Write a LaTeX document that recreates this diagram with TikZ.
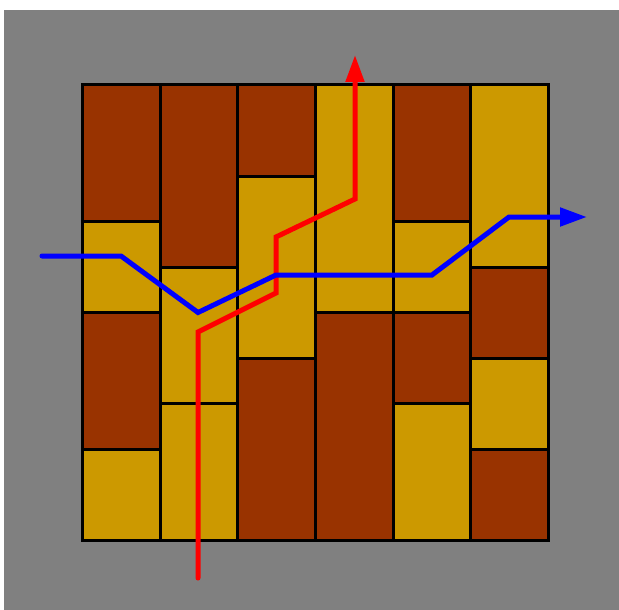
\documentclass[tikz,border=0pt]{standalone}
\usetikzlibrary{arrows.meta}
\definecolor{brick}{HTML}{993300}
\definecolor{ochre}{HTML}{CC9900}
\definecolor{bg}{HTML}{808080}
\begin{document}
\begin{tikzpicture}[x=1pt,y=-1pt,
  cell/.style={draw=black,line width=3pt},
  br/.style={cell,fill=brick},
  yl/.style={cell,fill=ochre},
  route/.style={line width=5pt,line cap=round,line join=miter,-{Triangle[length=27pt,width=18pt]}}]
\useasboundingbox (0,0) rectangle (619,610);
\fill[white] (0,0) rectangle (619,610);
\fill[bg] (4,10) rectangle (619,610);
% columns x: 82,160,237,315,393,470,548 ; rows y = 85 + k*45.5
\def\R#1{\fpeval{85+45.5*#1}}
% column 1
\draw[br] (82,85) rectangle (160,221.5);
\draw[yl] (82,221.5) rectangle (160,312.5);
\draw[br] (82,312.5) rectangle (160,449);
\draw[yl] (82,449) rectangle (160,540);
% column 2
\draw[br] (160,85) rectangle (237,267);
\draw[yl] (160,267) rectangle (237,403.5);
\draw[yl] (160,403.5) rectangle (237,540);
% column 3
\draw[br] (237,85) rectangle (315,176);
\draw[yl] (237,176) rectangle (315,358);
\draw[br] (237,358) rectangle (315,540);
% column 4
\draw[yl] (315,85) rectangle (393,312.5);
\draw[br] (315,312.5) rectangle (393,540);
% column 5
\draw[br] (393,85) rectangle (470,221.5);
\draw[yl] (393,221.5) rectangle (470,312.5);
\draw[br] (393,312.5) rectangle (470,403.5);
\draw[yl] (393,403.5) rectangle (470,540);
% column 6
\draw[yl] (470,85) rectangle (548,267);
\draw[br] (470,267) rectangle (548,358);
\draw[yl] (470,358) rectangle (548,449);
\draw[br] (470,449) rectangle (548,540);
% red route
\coordinate (r0) at (198,578);
\coordinate (r1) at (198,332);
\coordinate (r2) at (276,293);
\coordinate (r3) at (276,237);
\coordinate (r4) at (355,199);
\coordinate (r5) at (355,55);
\draw[route,red] (r0) -- (r1) -- (r2) -- (r3) -- (r4) -- (r5);
% blue route
\coordinate (b0) at (42,256);
\coordinate (b1) at (121,256);
\coordinate (b2) at (198,312.5);
\coordinate (b3) at (276,275);
\coordinate (b4) at (432,275);
\coordinate (b5) at (509,217);
\coordinate (b6) at (587,217);
\draw[route,blue] (b0) -- (b1) -- (b2) -- (b3) -- (b4) -- (b5) -- (b6);
\end{tikzpicture}
\end{document}
